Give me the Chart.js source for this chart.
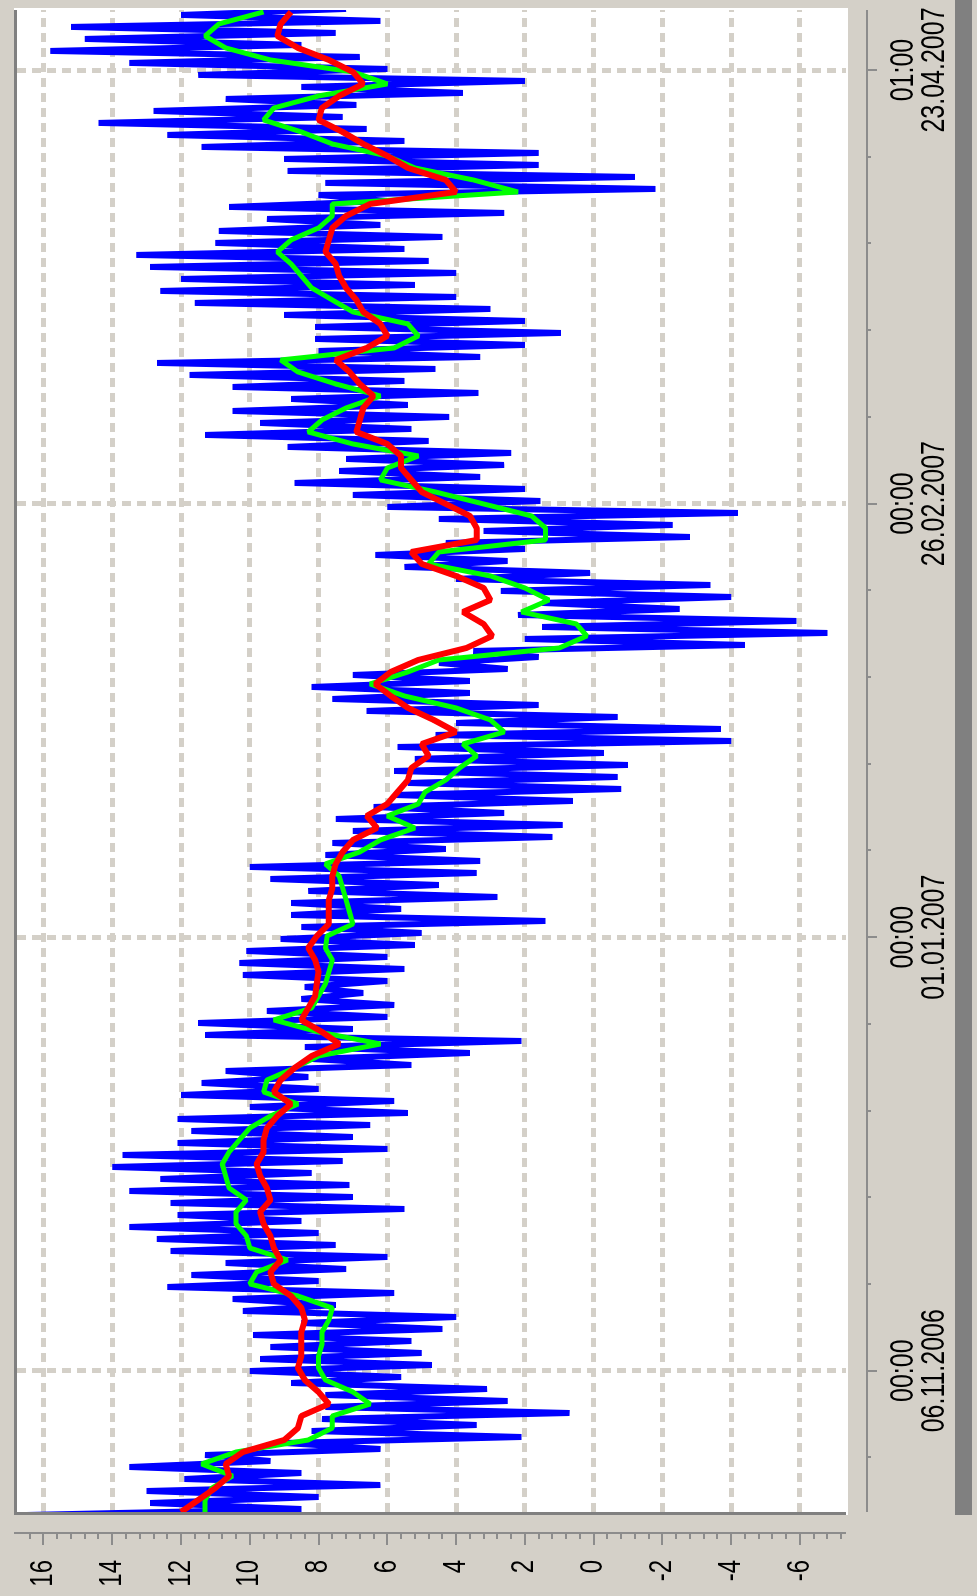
<!DOCTYPE html>
<html>
<head>
<meta charset="utf-8">
<script src="https://cdn.jsdelivr.net/npm/chart.js@4.4.0/dist/chart.umd.min.js"></script>
<style>
  html, body { margin: 0; padding: 0; background: #d4d0c8; overflow: hidden; }
  body { width: 977px; height: 1596px; position: relative; }
  /* the chart is laid out with time running left to right and turned a quarter turn */
  #wrap { position: absolute; left: 0; top: 0; width: 1596px; height: 977px;
          transform-origin: 0 0; transform: translate(0, 1596px) rotate(-90deg); }
  canvas { display: block; }
</style>
</head>
<body>
<div id="wrap"><canvas id="c" width="1596" height="977"></canvas></div>
<script>
// Samples: one row every 1.55 days, day 0 = 06.11.2006 00:00
const firstDay = -18.25;
const stepDays = 1.55;

// hourly temperature, upper and lower swing within each sample row (°C)
const blueHigh = [
  16.5, 12.9, 13.0, 11.9, 13.5, 11.3, 9.0, 8.2, 7.9, 7.8, 7.8, 8.8, 10.0, 9.7, 9.4, 9.9, 8.5, 10.2, 10.5, 12.4, 11.7, 10.7, 12.3, 12.7, 13.5, 12.1,
  12.3, 13.5, 12.6, 14.0, 13.7, 12.1, 11.7, 12.1, 10.0, 12.0, 11.4, 10.7, 8.2, 8.4, 11.3, 11.5, 9.5, 8.5, 8.4, 10.2, 10.3, 10.1, 9.1, 8.5, 8.8,
  8.8, 8.3, 9.4, 10.0, 7.8, 7.6, 7.0, 7.5, 6.4, 5.8, 5.4, 5.8, 5.2, 5.7, 4.6, 4.0, 6.6, 7.6, 8.2, 7.0, 4.5, 3.5, 2.0, 1.5, 2.2,
  1.5, 2.7, 4.0, 5.5, 6.35, 4.3, 3.2, 4.5, 6.0, 7.0, 8.7, 7.4, 7.2, 8.9, 11.3, 9.7, 10.5, 8.8, 10.5, 11.75, 12.7, 8.0, 8.1, 8.1, 9.0,
  11.6, 12.6, 12.0, 12.9, 13.3, 11.0, 10.9, 9.5, 10.6, 8.0, 7.8, 8.9, 9.0, 11.4, 12.4, 14.4, 12.8, 10.7, 8.5, 11.5, 13.5, 15.8, 14.8, 15.2, 12.0
];
const blueLow = [
  8.5, 8.0, 6.2, 8.5, 9.4, 6.2, 2.1, 3.4, 0.7, 2.5, 3.1, 5.6, 4.7, 5.0, 5.3, 4.4, 4.0, 7.5, 5.8, 8.0, 7.2, 6.0, 7.5, 8.0, 8.5, 5.5,
  7.0, 7.1, 8.2, 7.3, 6.0, 7.0, 6.5, 5.4, 5.8, 8.0, 8.3, 5.3, 3.6, 2.1, 7.0, 6.0, 5.8, 6.7, 6.0, 5.5, 6.0, 5.2, 5.0, 1.4, 5.6,
  2.8, 4.5, 3.4, 3.3, 4.3, 1.2, 0.9, 2.6, 0.6, -0.8, -0.7, -1.0, -0.3, -4.0, -3.7, -0.7, 1.6, 3.6, 3.6, 2.5, 1.6, -4.4, -6.8, -5.9, -2.5,
  -4.0, -3.4, 0.1, 2.5, 2.0, -2.8, -2.3, -4.2, 1.55, 2.0, 3.3, 2.6, 2.4, 4.8, 5.3, 4.2, 5.4, 3.35, 5.5, 4.6, 3.3, 2.0, 0.95, 2.0, 3.0,
  4.0, 5.2, 4.0, 4.8, 5.5, 4.4, 6.2, 2.6, 6.0, -1.8, -1.2, 1.6, 1.6, 5.5, 6.6, 7.3, 6.9, 3.8, 2.0, 6.0, 6.8, 8.5, 7.5, 6.2, 7.2
];
// short-term mean (°C)
const greenMean = [
  11.3, 11.3, 11.1, 10.5, 11.4, 10.4, 8.3, 7.6, 7.6, 6.5, 7.0, 7.8, 8.0, 8.0, 7.9, 7.9, 7.7, 7.6, 8.6, 10.0, 9.8, 8.9, 10.0, 10.1, 10.4, 10.4,
  10.1, 10.6, 10.7, 10.8, 10.6, 10.3, 10.0, 9.4, 8.6, 9.6, 9.5, 8.7, 8.0, 6.2, 8.0, 9.3, 8.2, 8.0, 7.8, 7.7, 7.6, 7.8, 7.75, 7.0, 7.1,
  7.2, 7.3, 7.4, 7.8, 6.8, 6.2, 5.2, 6.0, 5.1, 4.9, 4.3, 3.9, 3.4, 3.8, 2.6, 3.0, 4.0, 5.5, 6.5, 5.4, 4.5, 1.0, 0.2, 0.5, 2.1,
  1.3, 2.0, 3.0, 4.8, 4.5, 1.4, 1.4, 1.8, 3.2, 4.6, 6.2, 6.0, 5.1, 7.0, 8.3, 7.9, 7.2, 6.2, 7.5, 8.6, 9.1, 5.8, 5.1, 5.4, 7.0,
  7.6, 8.2, 8.5, 8.8, 9.2, 8.8, 8.0, 7.6, 7.6, 2.2, 3.5, 5.2, 6.0, 7.6, 8.5, 9.6, 9.3, 8.0, 6.0, 7.0, 9.4, 10.7, 11.3, 10.9, 9.6
];
// long-term mean (°C)
const redMean = [
  12.0, 11.5, 11.0, 10.6, 10.7, 10.2, 9.0, 8.6, 8.5, 7.7, 8.0, 8.4, 8.6, 8.5, 8.5, 8.5, 8.4, 8.5, 8.8, 9.3, 9.4, 9.1, 9.3, 9.4, 9.6, 9.7,
  9.4, 9.5, 9.7, 9.8, 9.6, 9.6, 9.5, 9.2, 8.8, 9.3, 9.1, 8.7, 8.2, 7.4, 7.9, 8.5, 8.3, 8.1, 8.05, 8.0, 8.1, 8.3, 8.05, 7.7, 7.7,
  7.7, 7.6, 7.6, 7.5, 7.3, 7.0, 6.3, 6.6, 6.0, 5.7, 5.4, 5.3, 4.8, 5.0, 4.0, 4.65, 5.4, 5.9, 6.35, 5.9, 5.1, 3.7, 2.95, 3.2, 3.8,
  3.0, 3.2, 4.0, 5.0, 5.3, 3.4, 3.4, 3.6, 4.3, 5.0, 5.3, 5.6, 5.6, 6.0, 6.9, 6.8, 6.7, 6.4, 6.8, 7.1, 7.5, 6.6, 6.0, 6.2, 6.7,
  6.9, 7.2, 7.4, 7.5, 7.8, 7.7, 7.6, 7.2, 6.5, 4.0, 4.3, 5.4, 6.0, 6.7, 7.3, 8.0, 7.9, 7.4, 6.7, 7.0, 7.7, 8.6, 9.2, 9.1, 8.8
];

// axes
const valueTicks = [-6, -4, -2, 0, 2, 4, 6, 8, 10, 12, 14, 16];
const valueMin = -7.34, valueMax = 16.77;
const dayMin = -18.25, dayMax = 175.75;
const timeTicks = [0, 56, 112, 168];
const timeLabels = [
  ['00:00', '06.11.2006'],
  ['00:00', '01.01.2007'],
  ['00:00', '26.02.2007'],
  ['01:00', '23.04.2007']
];
const minorDays = 11.2;
const minorValue = 0.4;

const sampleDay = i => firstDay + i * stepDays;
const bluePoints = [];
blueHigh.forEach((h, i) => {
  bluePoints.push({ x: sampleDay(i) - stepDays / 4, y: h });
  bluePoints.push({ x: sampleDay(i) + stepDays / 4, y: blueLow[i] });
});
const greenPoints = greenMean.map((v, i) => ({ x: sampleDay(i), y: v }));
const redPoints = redMean.map((v, i) => ({ x: sampleDay(i), y: v }));

const FONT = '"Liberation Sans", Arial, sans-serif';
const STRETCH = 1.3;

function tallText(ctx, text, x, y, align) {
  ctx.save();
  ctx.translate(x, y);
  ctx.scale(1, STRETCH);
  ctx.textAlign = align;
  ctx.textBaseline = 'middle';
  ctx.fillText(text, 0, 0);
  ctx.restore();
}

const frame = {
  id: 'frame',
  beforeDraw(chart) {
    const { ctx, chartArea: a, width, height } = chart;
    ctx.save();
    ctx.fillStyle = '#d4d0c8';
    ctx.fillRect(0, 0, width, height);
    ctx.fillStyle = '#ffffff';
    ctx.fillRect(a.left, a.top, a.right - a.left, a.bottom - a.top);
    ctx.restore();
  },
  afterDraw(chart) {
    const { ctx, chartArea: a, width } = chart;
    const xs = chart.scales.x, ys = chart.scales.y;
    ctx.save();
    // sunken frame
    ctx.fillStyle = '#808080';
    ctx.fillRect(a.left - 3, a.top - 3, a.right - a.left + 3, 3);
    ctx.fillRect(a.left - 3, a.top - 3, 3, a.bottom - a.top + 3);
    ctx.fillStyle = '#ffffff';
    ctx.fillRect(a.left - 3, a.bottom, a.right - a.left + 5, 2);
    ctx.fillRect(a.right, a.top - 3, 2, a.bottom - a.top + 5);

    // value axis
    const vx = 63;
    ctx.strokeStyle = '#8c8c8c';
    ctx.lineWidth = 2;
    ctx.beginPath();
    ctx.moveTo(vx, a.top - 3);
    ctx.lineTo(vx, a.bottom);
    const kMin = Math.ceil(valueMin / minorValue), kMax = Math.floor(valueMax / minorValue);
    for (let k = kMin; k <= kMax; k++) {
      const y = Math.round(ys.getPixelForValue(k * minorValue));
      const major = k % 5 === 0;
      ctx.moveTo(vx, y);
      ctx.lineTo(vx - (major ? 12 : 6), y);
    }
    ctx.stroke();

    // time axis
    const ty = 867;
    ctx.beginPath();
    ctx.moveTo(a.left, ty);
    ctx.lineTo(a.right, ty);
    const mMin = Math.ceil(dayMin / minorDays), mMax = Math.floor(dayMax / minorDays);
    for (let m = mMin; m <= mMax; m++) {
      const x = Math.round(xs.getPixelForValue(m * minorDays));
      const major = m % 5 === 0;
      ctx.moveTo(x, ty);
      ctx.lineTo(x, ty + (major ? 10 : 4));
    }
    ctx.stroke();

    // labels
    ctx.fillStyle = '#000000';
    ctx.font = '24px ' + FONT;
    valueTicks.forEach(v => tallText(ctx, String(v), 36, ys.getPixelForValue(v), 'right'));
    ctx.font = '25px ' + FONT;
    timeTicks.forEach((d, i) => {
      const x = xs.getPixelForValue(d);
      tallText(ctx, timeLabels[i][0], x, 904, 'center');
      tallText(ctx, timeLabels[i][1], x, 935, 'center');
    });

    // scroll strip
    ctx.fillStyle = '#808080';
    ctx.fillRect(a.left - 3, 955, width - a.left + 3, 17);
    ctx.restore();
  }
};

new Chart(document.getElementById('c'), {
  type: 'line',
  data: {
    datasets: [
      { data: redPoints, borderColor: '#ff0000', borderWidth: 6 },
      { data: greenPoints, borderColor: '#00ff00', borderWidth: 5 },
      { data: bluePoints, borderColor: '#0000ff', borderWidth: 6 }
    ]
  },
  options: {
    responsive: false,
    animation: false,
    devicePixelRatio: 1,
    parsing: false,
    layout: { padding: { left: 84, right: 10, top: 17, bottom: 131 } },
    elements: {
      point: { radius: 0, hoverRadius: 0 },
      line: { tension: 0, fill: false, borderJoinStyle: 'bevel', borderCapStyle: 'butt' }
    },
    plugins: { legend: { display: false }, tooltip: { enabled: false } },
    events: [],
    scales: {
      x: {
        type: 'linear', min: dayMin, max: dayMax,
        afterBuildTicks: s => { s.ticks = timeTicks.map(v => ({ value: v })); },
        ticks: { display: false },
        grid: { color: '#d4d0c8', lineWidth: 5, drawTicks: false },
        border: { display: false, dash: [9, 6] }
      },
      y: {
        type: 'linear', min: valueMin, max: valueMax,
        afterBuildTicks: s => { s.ticks = valueTicks.map(v => ({ value: v })); },
        ticks: { display: false },
        grid: { color: '#d4d0c8', lineWidth: 5, drawTicks: false },
        border: { display: false, dash: [9, 6] }
      }
    }
  },
  plugins: [frame]
});
</script>
</body>
</html>
